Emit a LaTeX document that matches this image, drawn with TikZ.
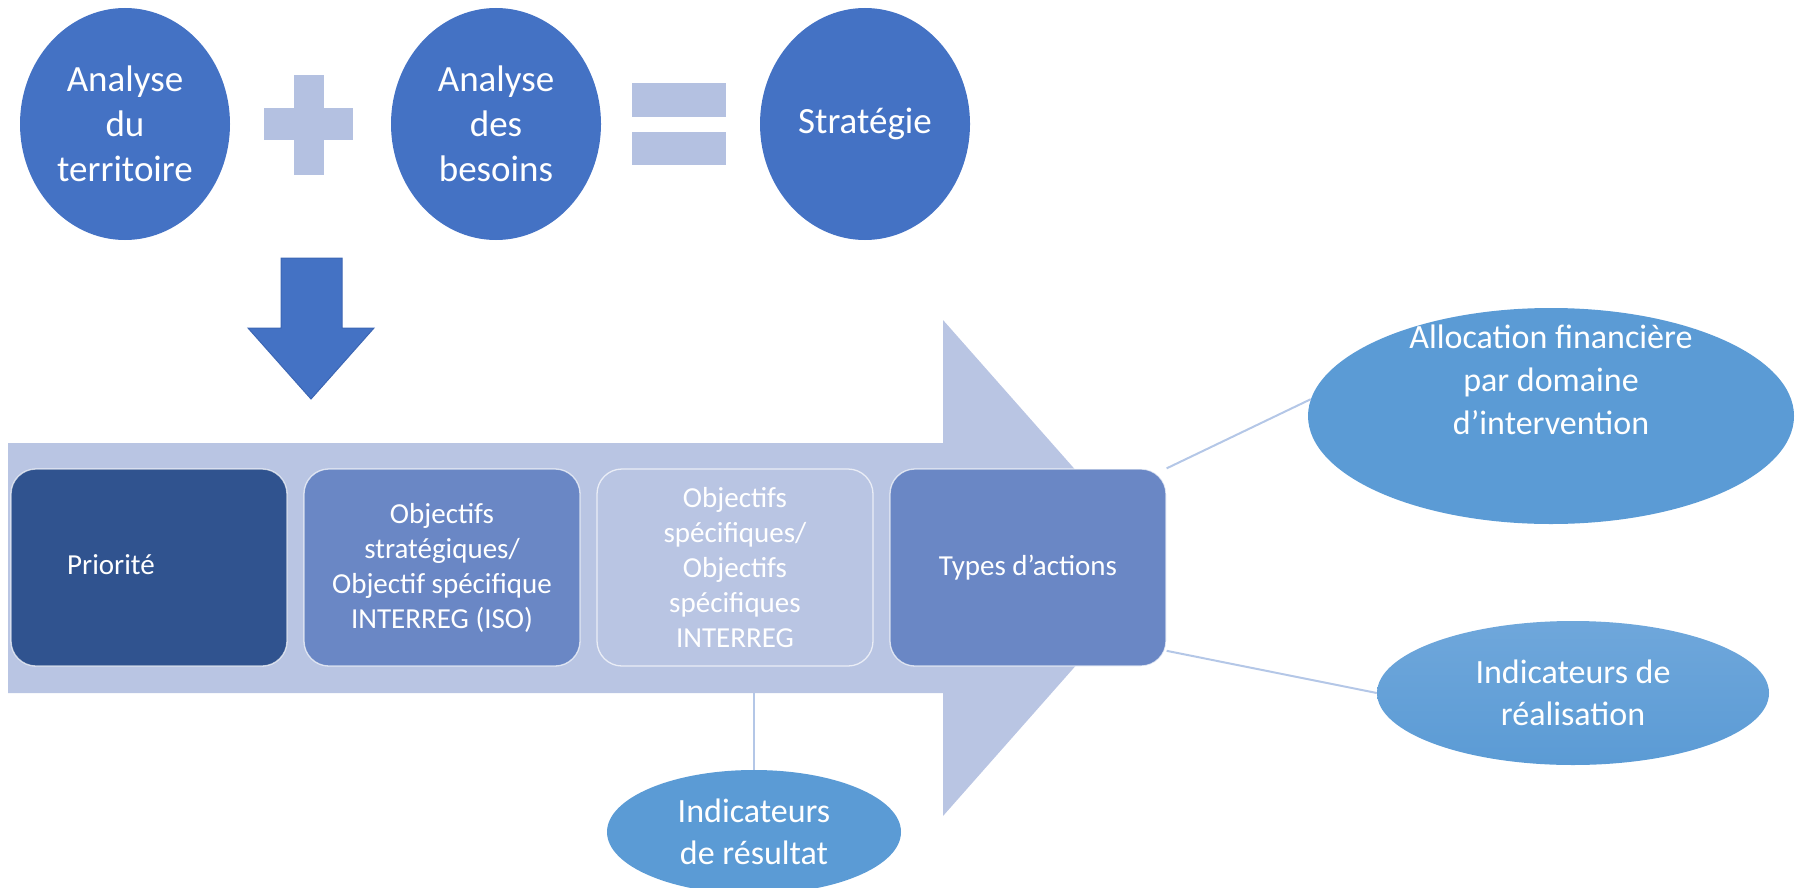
\documentclass[tikz,border=0pt]{standalone}
\usepackage{fontspec}
\setmainfont{Carlito}
\usetikzlibrary{shapes.geometric,calc}
\definecolor{topblue}{HTML}{4472C4}
\definecolor{arrowedge}{HTML}{3C66B4}
\definecolor{lav}{HTML}{B4C1E1}
\definecolor{arrowlav}{HTML}{B9C5E3}
\definecolor{darkbox}{HTML}{30538F}
\definecolor{midbox}{HTML}{6A87C5}
\definecolor{skyell}{HTML}{5B9BD5}
\definecolor{skylight}{HTML}{6FA7DB}
\definecolor{conn}{HTML}{B4C7E7}
\tikzset{
  topell/.style={ellipse, fill=topblue, minimum width=210pt, minimum height=232pt, inner sep=0pt,
    text=white, align=center, font=\fontsize{37}{45}\selectfont},
  skyellipse/.style={ellipse, fill=skyell, inner sep=0pt},
  wtext/.style={text=white, align=center, inner sep=0pt},
  stepbox/.style={rectangle, rounded corners=25pt, minimum width=276pt, minimum height=197pt,
    draw=white, draw opacity=0.7, line width=1.3pt, inner sep=0pt, text=white, align=center,
    font=\fontsize{29}{35}\selectfont},
  connector/.style={draw=conn, line width=2pt}
}
\begin{document}
\begin{tikzpicture}[x=1pt,y=-1pt]
\useasboundingbox (0,0) rectangle (1803,888);
% top row
\node[topell] (e1) at (125,124) {Analyse\\du\\territoire};
\node[topell] (e2) at (496,124) {Analyse\\des\\besoins};
\node[topell] (e3) at (865,124) {Stratégie};
% plus
\fill[lav] (294,75) rectangle (324,175);
\fill[lav] (264,108) rectangle (353,140);
% equals
\fill[lav] (632,83) rectangle (726,117);
\fill[lav] (632,132) rectangle (726,165);
% down arrow
\filldraw[fill=topblue, draw=arrowedge, line width=1pt, line join=miter]
  (281,258) -- (342,258) -- (342,328) -- (374,328) -- (311,399) -- (248,328) -- (281,328) -- cycle;
% big arrow
\fill[arrowlav] (8,443) -- (943,443) -- (943,320) -- (1162,568) -- (943,816) -- (943,693) -- (8,693) -- cycle;
% boxes
\node[stepbox, fill=darkbox] (prio) at (149,567.5) {};
\node[wtext, font=\fontsize{29}{35}\selectfont] (priot) at (111,565) {Priorité};
\node[stepbox, fill=midbox] (obj) at (442,567.5) {Objectifs\\stratégiques/\\Objectif spécifique\\INTERREG (ISO)};
\node[stepbox, fill=arrowlav] (spec) at (735,567.5) {Objectifs\\spécifiques/\\Objectifs\\spécifiques\\INTERREG};
\node[stepbox, fill=midbox] (types) at (1028,567.5) {Types d’actions};
% right ellipses
\node[skyellipse, minimum width=486pt, minimum height=216pt] (alloc) at (1551,416) {};
\node[wtext, font=\fontsize{34}{43}\selectfont] (alloct) at ([yshift=36pt]alloc.center) {Allocation financière\\par domaine\\d’intervention};
\node[ellipse, inner sep=0pt, top color=skylight, bottom color=skyell, minimum width=392pt, minimum height=144pt, wtext, font=\fontsize{34}{42}\selectfont] (real) at (1573,693) {Indicateurs de\\réalisation};
\node[skyellipse, minimum width=294pt, minimum height=124pt, wtext, font=\fontsize{34}{42}\selectfont] (res) at (754,832) {Indicateurs\\de résultat};
% connectors
\coordinate (abot) at (754,693);
\draw[connector] (types.north east) -- (alloc.176);
\draw[connector] (types.-31) -- (real.west);
\draw[connector] (abot) -- (res.north);
\end{tikzpicture}
\end{document}
